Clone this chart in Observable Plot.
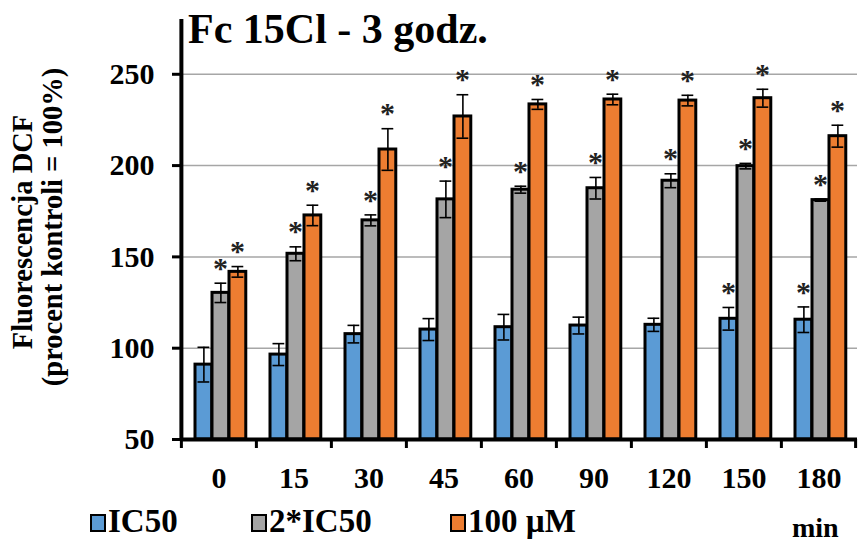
<!DOCTYPE html>
<html>
<head>
<meta charset="utf-8">
<script src="https://cdn.jsdelivr.net/npm/d3@7"></script>
<script src="https://cdn.jsdelivr.net/npm/@observablehq/plot@0.6"></script>
<style>
  html, body { margin: 0; padding: 0; background: #fff; }
  #chart svg { display: block; }
</style>
</head>
<body>
<div id="chart"></div>
<script>
// ---- data ----
const times = ["0", "15", "30", "45", "60", "90", "120", "150", "180"];
const seriesNames = ["IC50", "2*IC50", "100 µM"];
const ic50 = [91, 96.5, 107.7, 110.2, 111.5, 112.4, 112.8, 116.1, 115.6];
const ic50Err = [9.5, 6, 4.8, 6, 7, 4.6, 3.6, 6.2, 7];
const ic50Sig = [false, false, false, false, false, false, false, true, true];
const ic50x2 = [130.3, 151.7, 170, 181.5, 186.8, 187.6, 191.7, 199.7, 181.1];
const ic50x2Err = [5.3, 3.8, 3, 10, 1.9, 5.9, 3.8, 1.5, 0.6];
const ic50x2Sig = [true, true, true, true, true, true, true, true, true];
const uM100 = [141.8, 172.7, 208.8, 226.9, 233.5, 236.2, 235.6, 236.9, 216.1];
const uM100Err = [2.9, 5.6, 11.4, 11.9, 2.7, 2.9, 2.9, 4.9, 6];
const uM100Sig = [true, true, true, true, true, true, true, true, true];
const yTicks = [50, 100, 150, 200, 250];
const colors = ["#5B9BD5", "#A5A5A5", "#ED7D31"];

// ---- layout ----
const W = 858, H = 544;
const mL = 180, mR = 1, mT = 19, mB = 105;
const bw = (W - mL - mR) / times.length;
const slots = [[14, 31], [31, 48], [48, 65]]; // bar slot within band (px)
const serif = "'Liberation Serif', 'Times New Roman', Times, serif";

const seriesVals = [ic50, ic50x2, uM100];
const seriesErrs = [ic50Err, ic50x2Err, uM100Err];
const seriesSig = [ic50Sig, ic50x2Sig, uM100Sig];

const rows = [];
seriesVals.forEach((vals, s) => {
  vals.forEach((v, i) => rows.push({series: s, time: times[i], v, e: seriesErrs[s][i], sig: seriesSig[s][i]}));
});

const marks = [
  Plot.gridY(yTicks.slice(1), {stroke: "#a6a6a6", strokeOpacity: 1, strokeWidth: 1.5})
];

seriesVals.forEach((_, s) => {
  const data = rows.filter(d => d.series === s);
  const [a, b] = slots[s];
  const c = (a + b) / 2;
  marks.push(
    Plot.barY(data, {x: "time", y1: 50, y2: "v", fill: colors[s], stroke: "#000", strokeWidth: 3,
      insetLeft: a, insetRight: bw - b}),
    Plot.ruleX(data, {x: "time", y1: d => d.v - d.e, y2: d => d.v + d.e, dx: c - bw / 2, stroke: "#000", strokeWidth: 1.6}),
    Plot.tickY(data, {x: "time", y: d => d.v + d.e, insetLeft: c - 6, insetRight: bw - c - 6, stroke: "#000", strokeWidth: 1.6}),
    Plot.tickY(data, {x: "time", y: d => d.v - d.e, insetLeft: c - 6, insetRight: bw - c - 6, stroke: "#000", strokeWidth: 1.6}),
    Plot.text(data.filter(d => d.sig), {x: "time", y: d => d.v + d.e, text: () => "*", dx: c - bw / 2 - 0.5, dy: -15,
      fontSize: 30, fontWeight: "bold", fontFamily: serif, fill: "#222"})
  );
});

marks.push(
  // x axis line
  Plot.ruleY([50], {stroke: "#000", strokeWidth: 4}),
  // y axis line
  Plot.ruleX([times[0]], {x: d => d, y1: 50, y2: 280, dx: -bw / 2, stroke: "#000", strokeWidth: 4}),
  // category boundary ticks
  Plot.axisX({ticks: times, tickSize: 9, tickFormat: () => "", dx: -bw / 2, strokeWidth: 3, stroke: "#000"}),
  Plot.axisX({ticks: [times[times.length - 1]], tickSize: 9, tickFormat: () => "", dx: bw / 2 - 1, strokeWidth: 3, stroke: "#000"}),
  // category labels
  Plot.axisX({ticks: times, tickSize: 0, tickPadding: 27, fontSize: 30, fontWeight: "bold", fontFamily: serif, fill: "#000"}),
  // y axis
  Plot.axisY({ticks: yTicks, tickSize: 8, tickPadding: 18, strokeWidth: 3, stroke: "#000", fontSize: 30, fontWeight: "bold", fontFamily: serif, fill: "#000"})
);

const chart = Plot.plot({
  width: W,
  height: H,
  marginLeft: mL,
  marginRight: mR,
  marginTop: mT,
  marginBottom: mB,
  style: {background: "#fff", fontFamily: serif, overflow: "visible"},
  x: {type: "band", domain: times, padding: 0, label: null, axis: null},
  y: {domain: [50, 280], label: null, axis: null},
  marks
});

const svg = d3.select(chart);

// title
svg.append("text")
  .attr("x", 188).attr("y", 43)
  .attr("text-anchor", "start")
  .attr("font-family", serif).attr("font-weight", "bold").attr("font-size", 42)
  .attr("fill", "#000")
  .text("Fc 15Cl - 3 godz.");

// y axis title (two lines)
const yl = svg.append("text")
  .attr("transform", "translate(32,229) rotate(-90)")
  .attr("text-anchor", "middle")
  .attr("font-family", serif).attr("font-weight", "bold").attr("font-size", 28.5)
  .attr("fill", "#000");
yl.append("tspan").attr("x", -3).attr("y", 0).text("Fluorescencja DCF");
yl.append("tspan").attr("x", 2).attr("y", 30).text("(procent kontroli = 100%)");

// legend
const legendX = [91, 252, 451];
seriesNames.forEach((name, s) => {
  svg.append("rect")
    .attr("x", legendX[s]).attr("y", 515).attr("width", 14).attr("height", 16)
    .attr("fill", colors[s]).attr("stroke", "#000").attr("stroke-width", 2);
  svg.append("text")
    .attr("x", legendX[s] + 17).attr("y", 532)
    .attr("text-anchor", "start")
    .attr("font-family", serif).attr("font-weight", "bold").attr("font-size", 33)
    .attr("fill", "#000")
    .text(name);
});

// unit
svg.append("text")
  .attr("x", 792).attr("y", 537)
  .attr("text-anchor", "start")
  .attr("font-family", serif).attr("font-weight", "bold").attr("font-size", 28)
  .attr("fill", "#000")
  .text("min");

document.getElementById("chart").appendChild(chart);
</script>
</body>
</html>
